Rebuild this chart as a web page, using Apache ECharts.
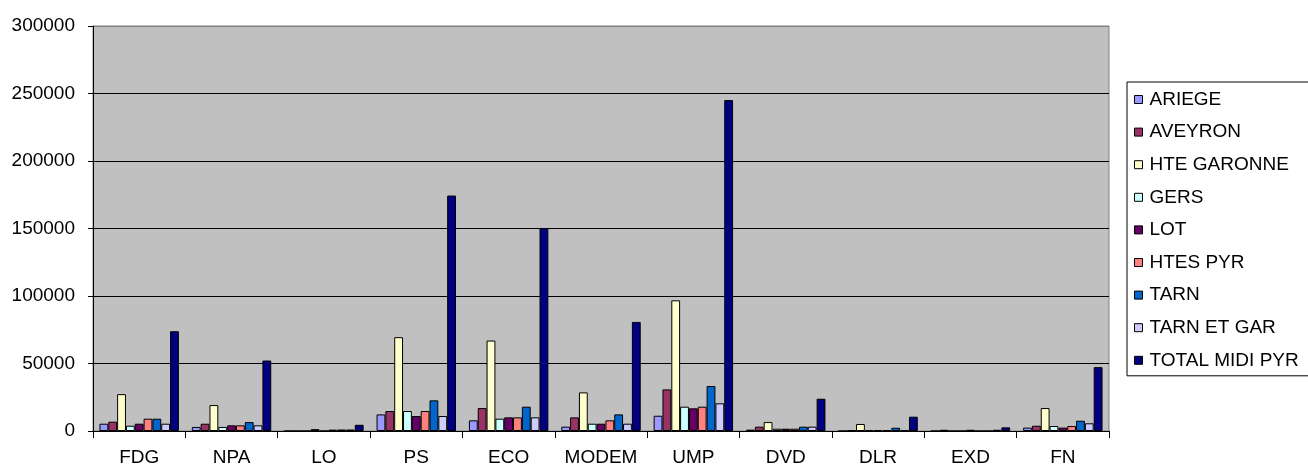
<!DOCTYPE html>
<html>
<head>
<meta charset="utf-8">
<script src="https://cdn.jsdelivr.net/npm/echarts@6/dist/echarts.min.js"></script>
<style>
  html, body { margin: 0; padding: 0; background: #fff; }
  #chart-container { width: 1308px; height: 468px; }
</style>
</head>
<body>
<div id="chart-container"></div>
<script>
const parties = ['FDG', 'NPA', 'LO', 'PS', 'ECO', 'MODEM', 'UMP', 'DVD', 'DLR', 'EXD', 'FN'];
const departments = ['ARIEGE', 'AVEYRON', 'HTE GARONNE', 'GERS', 'LOT', 'HTES PYR', 'TARN', 'TARN ET GAR', 'TOTAL MIDI PYR'];
const colors = ['#9999FF', '#993366', '#FFFFCC', '#CCFFFF', '#660066', '#FF8080', '#0066CC', '#CCCCFF', '#000080'];

// votes per department, one array per department, in party order
const ariege     = [5400, 3000, 0, 12300, 7900, 3200, 11300, 1000, 0, 0, 2500];
const aveyron    = [6900, 5400, 0, 14800, 17000, 10100, 30800, 3200, 600, 900, 3900];
const hteGaronne = [27300, 19200, 0, 69500, 67000, 28600, 96800, 6600, 5200, 0, 17000];
const gers       = [3900, 3000, 1400, 14800, 9100, 5400, 18000, 1700, 600, 0, 3700];
const lot        = [5400, 4200, 0, 11100, 10100, 5400, 16800, 1700, 600, 900, 2500];
const htesPyr    = [9100, 4200, 1000, 14800, 10100, 7900, 18000, 1700, 600, 0, 3700];
const tarn       = [9100, 6600, 1100, 22700, 18000, 12300, 33300, 3200, 2400, 0, 7600];
const tarnEtGar  = [5400, 4200, 1100, 11100, 10100, 5400, 20500, 3200, 600, 900, 5700];
const total      = [73900, 52200, 4600, 174400, 150300, 80800, 245100, 23900, 10600, 2700, 47300];

const values = [ariege, aveyron, hteGaronne, gers, lot, htesPyr, tarn, tarnEtGar, total];
const yTicks = [0, 300000, 50000]; // min, max, interval

var dom = document.getElementById('chart-container');
var myChart = echarts.init(dom, null, { renderer: 'canvas' });

const font = '"Liberation Sans", Arial, sans-serif';

const series = departments.map((name, i) => ({
  name: name,
  type: 'bar',
  barGap: 0,
  barCategoryGap: '14%',
  itemStyle: { color: colors[i], borderColor: '#000', borderWidth: 1 },
  data: values[i]
}));

var option = {
  animation: false,
  backgroundColor: '#fff',
  textStyle: { fontFamily: font },
  grid: {
    left: 93, right: 199, top: 26, bottom: 37,
    show: true,
    backgroundColor: '#C0C0C0',
    borderColor: '#808080',
    borderWidth: 1
  },
  legend: {
    orient: 'vertical',
    left: 1127,
    top: 82,
    padding: [8, 40, 6, 7],
    itemWidth: 8,
    itemHeight: 8,
    itemGap: 13.6,
    borderColor: '#000',
    borderWidth: 1,
    backgroundColor: '#fff',
    icon: 'rect',
    itemStyle: { borderColor: '#000', borderWidth: 1 },
    textStyle: { fontFamily: font, fontSize: 19, color: '#000', lineHeight: 18, height: 18, padding: [0, 0, 0, 2] },
    data: departments
  },
  xAxis: {
    type: 'category',
    data: parties,
    axisLine: { lineStyle: { color: '#000', width: 1 } },
    axisTick: { show: true, length: 7, lineStyle: { color: '#000' } },
    axisLabel: { interval: 0, fontFamily: font, fontSize: 19, color: '#000', margin: 17 }
  },
  yAxis: {
    type: 'value',
    min: yTicks[0],
    max: yTicks[1],
    interval: yTicks[2],
    axisLine: { show: true, lineStyle: { color: '#000', width: 1 } },
    axisTick: { show: true, length: 5, lineStyle: { color: '#000' } },
    axisLabel: { fontFamily: font, fontSize: 19, color: '#000', margin: 18, formatter: v => String(v) },
    splitLine: {
      show: true,
      lineStyle: { color: ['#000', '#000', '#000', '#000', '#000', '#000', '#808080'], width: 1 }
    }
  },
  series: series
};

myChart.setOption(option);
window.addEventListener('resize', myChart.resize);
</script>
</body>
</html>
